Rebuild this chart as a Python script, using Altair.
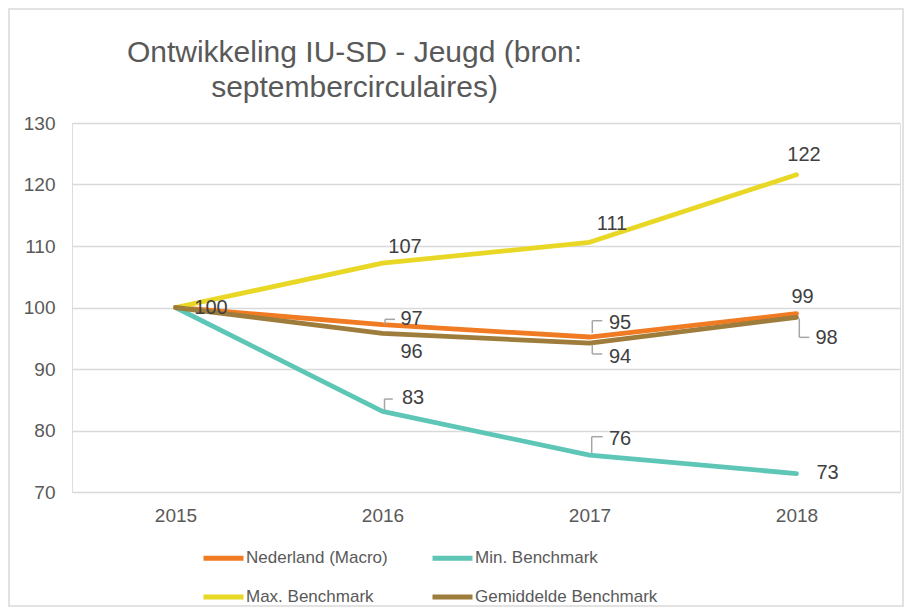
import altair as alt
import pandas as pd

# ---- data ----
years = ["2015", "2016", "2017", "2018"]
series_names = ["Nederland (Macro)", "Min. Benchmark", "Max. Benchmark", "Gemiddelde Benchmark"]
nederland = [100, 97.2, 95.2, 99.0]
min_bm = [100, 83.1, 76.0, 73.0]
max_bm = [100, 107.2, 110.6, 121.6]
gemiddeld = [100, 95.8, 94.2, 98.4]
y_ticks = [70, 80, 90, 100, 110, 120, 130]
title_lines = ["Ontwikkeling IU-SD - Jeugd (bron:", "septembercirculaires)"]

colors = ["#F07B22", "#5EC6B7", "#E8D825", "#9E7C3C"]

rows = []
for name, vals in zip(series_names, [nederland, min_bm, max_bm, gemiddeld]):
    for yr, v in zip(years, vals):
        rows.append({"series": name, "year": yr, "value": v})
df = pd.DataFrame(rows)

# ---- label placement (pixel offsets relative to the point; styling only) ----
label_place = [
    ("Nederland (Macro)", "2015", 35.5, 0.5),
    ("Nederland (Macro)", "2016", 29, -5.7),
    ("Gemiddelde Benchmark", "2016", 29, 18.4),
    ("Min. Benchmark", "2016", 30.5, -13.4),
    ("Max. Benchmark", "2016", 22.5, -16),
    ("Max. Benchmark", "2017", 22.5, -18.3),
    ("Max. Benchmark", "2018", 7.5, -19.7),
    ("Nederland (Macro)", "2017", 30.5, -14.3),
    ("Gemiddelde Benchmark", "2017", 30.5, 13.5),
    ("Nederland (Macro)", "2018", 6, -17),
    ("Gemiddelde Benchmark", "2018", 30, 20.7),
    ("Min. Benchmark", "2017", 30.5, -16),
    ("Min. Benchmark", "2018", 31, -0.6),
]
# leader brackets: (series, year, vx, y0, y1, hx)
leader_place = [
    ("Nederland (Macro)", "2016", 2.5, -0.4, -5.4, 12.5),
    ("Min. Benchmark", "2016", 2.0, -1.4, -12.4, 10.3),
    ("Nederland (Macro)", "2017", 2.8, -4.0, -16.3, 12.8),
    ("Gemiddelde Benchmark", "2017", 2.8, 1.5, 10.8, 12.8),
    ("Gemiddelde Benchmark", "2018", 2.8, 1.0, 20.0, 12.8),
    ("Min. Benchmark", "2017", 2.2, -1.8, -18.4, 13.2),
]

FONT = "Liberation Sans"

base = alt.Chart(df)
x_enc = alt.X("year:O", scale=alt.Scale(type="point", padding=0.5, domain=years),
              axis=alt.Axis(title=None, labelAngle=0, labelFontSize=19, labelColor="#595959",
                            labelFont=FONT, ticks=False, domain=False, grid=False,
                            labelPadding=14))
y_enc = alt.Y("value:Q", scale=alt.Scale(domain=[70, 130], nice=False, zero=False),
              axis=alt.Axis(title=None, values=y_ticks, labelFontSize=19, labelColor="#595959",
                            labelFont=FONT, ticks=False, domain=False, grid=True,
                            gridColor="#D9D9D9", gridWidth=1.5, labelPadding=17))

lines = base.mark_line(strokeWidth=4.8, strokeCap="round", strokeJoin="round").encode(
    x=x_enc,
    y=y_enc,
    color=alt.Color("series:N", sort=series_names,
                    scale=alt.Scale(domain=series_names, range=colors),
                    legend=alt.Legend(title=None, orient="none", legendX=129, legendY=412.5,
                                      columns=2, columnPadding=34, rowPadding=6,
                                      symbolType="stroke", symbolSize=1600,
                                      symbolStrokeWidth=5, labelFontSize=17,
                                      labelColor="#595959", labelFont=FONT,
                                      labelOffset=0, labelLimit=400,
                                      direction="horizontal")),
    order=alt.Order("year:O"),
)

layers = [lines]

for s, yr, dx, dy in label_place:
    layers.append(
        base.transform_filter((alt.datum.series == s) & (alt.datum.year == yr))
        .mark_text(dx=dx, dy=dy, fontSize=20, font=FONT, color="#404040",
                   align="center", baseline="middle")
        .encode(x="year:O", y="value:Q", text=alt.Text("value:Q", format=".0f"))
    )

for s, yr, vx, y0, y1, hx in leader_place:
    f = base.transform_filter((alt.datum.series == s) & (alt.datum.year == yr))
    enc = dict(x="year:O", x2="year", y="value:Q", y2="value")
    layers.append(f.mark_rule(color="#A6A6A6", strokeWidth=1.5,
                              xOffset=vx, x2Offset=vx, yOffset=y0, y2Offset=y1).encode(**enc))
    layers.append(f.mark_rule(color="#A6A6A6", strokeWidth=1.5,
                              xOffset=vx, x2Offset=hx, yOffset=y1, y2Offset=y1).encode(**enc))

# title, two centred lines
title_df = pd.DataFrame({"t": title_lines})
layers.append(alt.Chart(title_df.iloc[[0]]).mark_text(
    fontSize=30, font=FONT, color="#595959", align="center", baseline="alphabetic").encode(
    text="t:N", x=alt.value(282.5), y=alt.value(-61)))
layers.append(alt.Chart(title_df.iloc[[1]]).mark_text(
    fontSize=30, font=FONT, color="#595959", align="center", baseline="alphabetic").encode(
    text="t:N", x=alt.value(282.5), y=alt.value(-26)))

frame = alt.Chart(pd.DataFrame({"k": [0]})).mark_rect(
    filled=False, stroke="#D9D9D9", strokeWidth=1.5).encode(
    x=alt.value(-63), x2=alt.value(831), y=alt.value(-114), y2=alt.value(483))
layers.append(frame)

chart = alt.layer(*layers).properties(
    width=828,
    height=369,
    autosize=alt.AutoSizeParams(type="none"),
    padding={"left": 64, "top": 115, "right": 5, "bottom": 115},
).configure_view(stroke=None).configure(background="white")

chart.save("out.html", embed_options={"renderer": "svg", "actions": False})
